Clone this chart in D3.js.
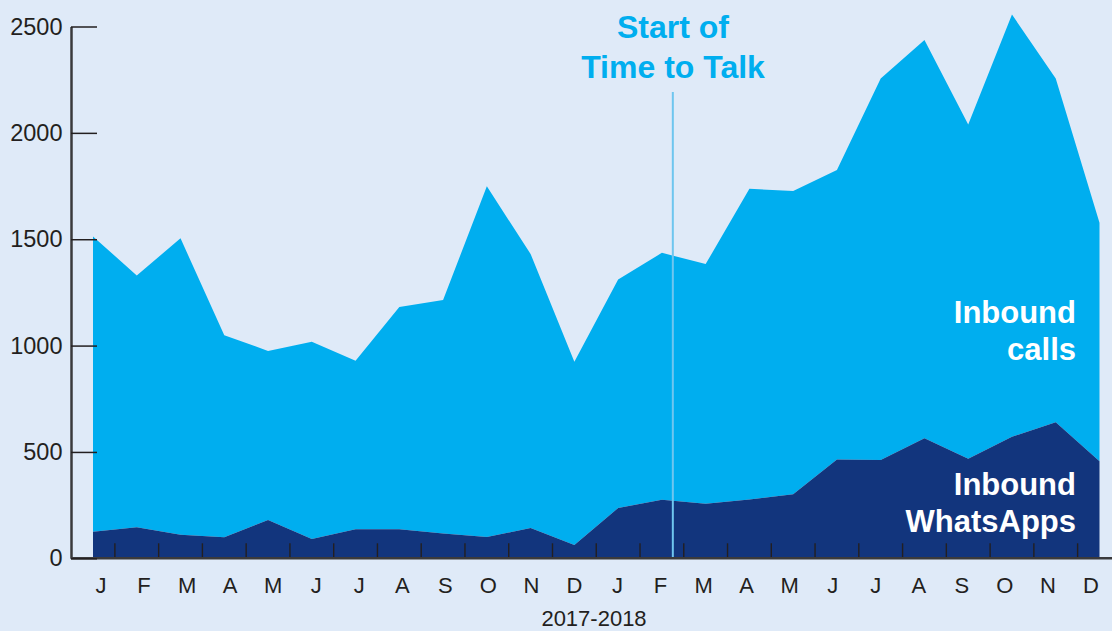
<!DOCTYPE html>
<html lang="en">
<head>
	<meta charset="UTF-8">
	<title>Time to Talk</title>
	<script src="https://d3js.org/d3.v7.min.js"></script>
	<style>
		body { margin: 0; background: #dfeaf8; }
		svg { display: block; font-family: "Liberation Sans", Arial, sans-serif; }
	</style>
</head>
<body>
	<div id="main"></div>
<script>
	// months Jan 2017 .. Dec 2018
	var months = ["J","F","M","A","M","J","J","A","S","O","N","D",
	              "J","F","M","A","M","J","J","A","S","O","N","D"];
	var whatsapps = [125,146,111,99,180,91,136,136,117,100,142,62,
	                 236,275,257,277,301,465,462,564,468,571,639,456];
	var calls = [1388,1184,1393,950,795,927,793,1045,1097,1649,1288,862,
	             1075,1161,1126,1460,1426,1360,1794,1872,1571,1985,1617,1121];
	var yTicks = [0,500,1000,1500,2000,2500];
	var startIndex = 13.25; // Time to Talk starts just after February 2018

	var width = 1112, height = 631;

	var svg = d3.select("#main")
		.append("svg")
		.attr("width", width)
		.attr("height", height);

	svg.append("rect")
		.attr("width", width)
		.attr("height", height)
		.attr("fill", "#dfeaf8");

	var x = d3.scaleLinear().domain([0, months.length - 1]).range([93, 1099.5]);
	var y = d3.scaleLinear().domain([0, 2500]).range([558.3, 26.5]);
	var labelX = d3.scalePoint().domain(d3.range(months.length)).range([101, 1091]);

	var table = months.map(function(m, i){
		return {i: i, whatsapps: whatsapps[i], calls: calls[i]};
	});
	var series = d3.stack().keys(["whatsapps", "calls"])(table);
	var colors = {whatsapps: "#12357d", calls: "#00aeef"};

	var area = d3.area()
		.x(function(d){ return x(d.data.i); })
		.y0(function(d){ return y(d[0]); })
		.y1(function(d){ return y(d[1]); });

	// draw calls first so whatsapps sit on top
	svg.selectAll("path.area")
		.data(series.slice().reverse())
		.enter()
		.append("path")
		.attr("class", "area")
		.attr("fill", function(d){ return colors[d.key]; })
		.attr("d", area);

	// x ticks between months
	svg.selectAll("line.xtick")
		.data(d3.range(months.length - 1))
		.enter()
		.append("line")
		.attr("x1", function(d){ return x(d + 0.5); })
		.attr("x2", function(d){ return x(d + 0.5); })
		.attr("y1", y(0))
		.attr("y2", y(0) - 15)
		.attr("stroke", "#231f20")
		.attr("stroke-width", 1.4);

	// start of Time to Talk marker
	svg.append("line")
		.attr("x1", x(startIndex)).attr("x2", x(startIndex))
		.attr("y1", 92).attr("y2", y(0))
		.attr("stroke", "#6ec6ef")
		.attr("stroke-width", 2);

	// baseline
	svg.append("line")
		.attr("x1", 71).attr("x2", width)
		.attr("y1", y(0)).attr("y2", y(0))
		.attr("stroke", "#3a3a3c")
		.attr("stroke-width", 2.5);

	// y axis
	var yAxis = svg.append("g")
		.attr("transform", "translate(71,0)")
		.call(d3.axisLeft(y).tickValues(yTicks).tickFormat(d3.format("d"))
			.tickSize(-26).tickSizeOuter(0).tickPadding(8.5));
	yAxis.select(".domain").attr("stroke", "#3a3a3c").attr("stroke-width", 2.5);
	yAxis.selectAll(".tick line").attr("stroke", "#231f20").attr("stroke-width", 1.5);
	yAxis.selectAll(".tick text")
		.attr("fill", "#231f20")
		.style("font-size", "23.5px")
		.style("font-family", "'Liberation Sans', Arial, sans-serif");

	// month labels
	svg.selectAll("text.month")
		.data(months)
		.enter()
		.append("text")
		.attr("class", "month")
		.attr("x", function(d, i){ return labelX(i); })
		.attr("y", 592.7)
		.attr("text-anchor", "middle")
		.attr("fill", "#231f20")
		.style("font-size", "22px")
		.text(function(d){ return d; });

	svg.append("text")
		.attr("x", 594).attr("y", 626)
		.attr("text-anchor", "middle")
		.attr("fill", "#231f20")
		.style("font-size", "22px")
		.text("2017-2018");

	// annotations
	function label(lines, xPos, yPos, anchor, color){
		var t = svg.append("text")
			.attr("text-anchor", anchor)
			.attr("fill", color)
			.style("font-weight", "bold");
		lines.forEach(function(s, k){
			t.append("tspan").attr("x", xPos).attr("y", yPos[k]).text(s);
		});
		return t;
	}
	label(["Start of", "Time to Talk"], 673, [37.7, 78.3], "middle", "#00aeef").style("font-size", "32px");
	label(["Inbound", "calls"], 1076, [323, 360], "end", "#ffffff").style("font-size", "31px");
	label(["Inbound", "WhatsApps"], 1076, [495, 532], "end", "#ffffff").style("font-size", "31px");
</script>
</body>
</html>
